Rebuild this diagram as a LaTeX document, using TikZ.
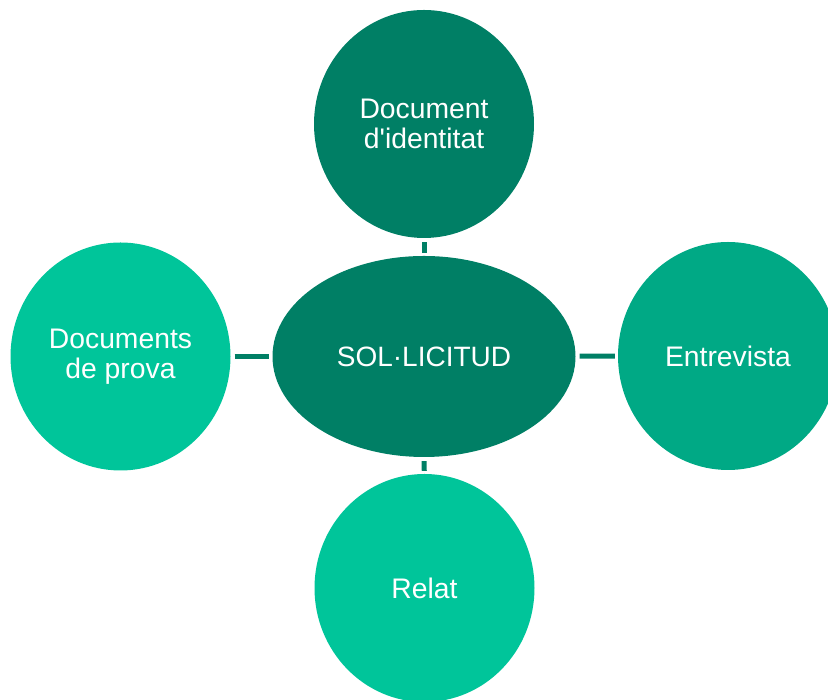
\documentclass[tikz,border=0pt]{standalone}
\usepackage{fontspec}
\setmainfont{Liberation Sans}
\newcommand{\straightq}{\XeTeXglyph\XeTeXglyphindex "quotesingle"\relax}
\usetikzlibrary{shapes.geometric}
\definecolor{darkg}{HTML}{007F65}
\definecolor{midg}{HTML}{00A985}
\definecolor{lightg}{HTML}{00C59A}
\tikzset{
  bubble/.style={ellipse, inner sep=0pt, minimum width=220pt, minimum height=228pt,
    text=white, font=\fontsize{28.3}{30.5}\selectfont, align=center},
  hub/.style={ellipse, inner sep=0pt, minimum width=303pt, minimum height=201pt,
    fill=darkg, text=white, font=\fontsize{28}{30.5}\selectfont, align=center},
  link/.style={draw=darkg, line width=5pt, shorten <=4pt, shorten >=3pt}
}
\begin{document}
\begin{tikzpicture}[x=1pt,y=1pt]
\useasboundingbox (0,0) rectangle (828,700);
\node[hub] (c) at (424,343.5) {SOL·LICITUD};
\node[bubble, fill=darkg] (t) at (424,576) {Document\\d\straightq identitat};
\node[bubble, fill=lightg] (l) at (120.5,343.5) {Documents\\de prova};
\node[bubble, fill=midg] (r) at (728,344) {Entrevista};
\node[bubble, fill=lightg] (b) at (424.5,112) {Relat};
\draw[link] (t) -- (c);
\draw[link] (l) -- (c);
\draw[link] (c) -- (r);
\draw[link] (c) -- (b);
\end{tikzpicture}
\end{document}
